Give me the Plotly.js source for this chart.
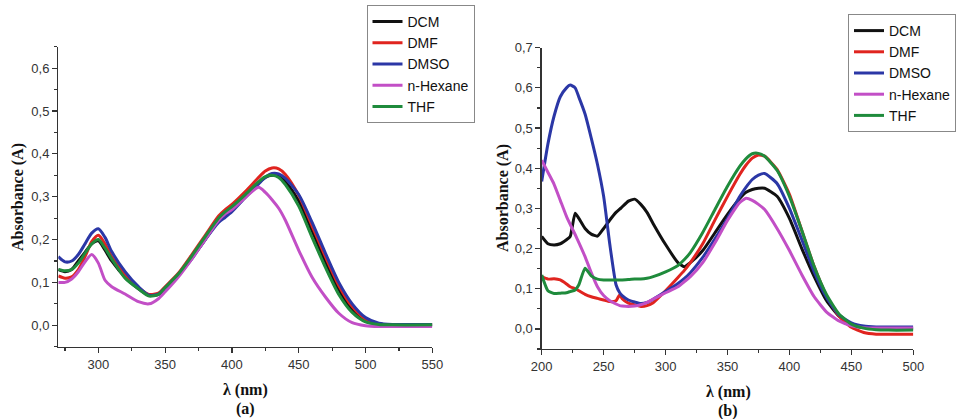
<!DOCTYPE html>
<html>
<head>
<meta charset="utf-8">
<script src="https://cdn.plot.ly/plotly-3.0.1.min.js"></script>
<style>html,body{margin:0;padding:0;background:#fff;}#chart{width:956px;height:419px;}</style>
</head>
<body>
<div id="chart"></div>
<script>
// ---------- data ----------
const seriesNames = ["DCM", "DMF", "DMSO", "n-Hexane", "THF"];

// Panel (a)
const waveA = [270,275,280,285,290,295,300,305,310,320,330,338,345,350,360,370,380,390,395,400,410,420,425,430,435,440,450,460,470,480,490,500,510,520,550];
const dcmA  = [0.13,0.125,0.13,0.15,0.17,0.19,0.197,0.175,0.15,0.112,0.085,0.07,0.072,0.088,0.118,0.158,0.2,0.245,0.258,0.27,0.302,0.333,0.345,0.35,0.348,0.335,0.29,0.22,0.148,0.083,0.037,0.012,0.003,0.001,0.001];
const dmfA  = [0.115,0.11,0.113,0.13,0.16,0.195,0.21,0.19,0.16,0.118,0.088,0.072,0.075,0.09,0.122,0.165,0.21,0.255,0.27,0.282,0.312,0.345,0.36,0.367,0.365,0.352,0.303,0.232,0.16,0.093,0.044,0.014,0.003,0.001,0.001];
const dmsoA = [0.16,0.148,0.15,0.165,0.19,0.215,0.225,0.205,0.172,0.125,0.09,0.07,0.073,0.087,0.117,0.155,0.2,0.24,0.252,0.265,0.298,0.33,0.345,0.354,0.353,0.343,0.305,0.24,0.168,0.1,0.05,0.018,0.005,0.002,0.002];
const hexA  = [0.1,0.1,0.108,0.125,0.148,0.165,0.145,0.105,0.09,0.073,0.055,0.05,0.062,0.078,0.113,0.155,0.2,0.245,0.26,0.27,0.298,0.322,0.31,0.293,0.273,0.245,0.175,0.112,0.066,0.028,0.006,-0.001,-0.003,-0.003,-0.003];
const thfA  = [0.13,0.127,0.13,0.145,0.168,0.19,0.2,0.18,0.155,0.11,0.085,0.068,0.072,0.088,0.12,0.162,0.207,0.25,0.265,0.277,0.305,0.335,0.347,0.35,0.345,0.328,0.278,0.205,0.135,0.072,0.03,0.008,0.002,0.001,0.001];

// Panel (b)
const waveB = [200,205,210,215,220,223,227,230,235,240,245,250,255,260,263,265,270,275,280,285,290,300,310,315,320,330,340,350,360,365,370,375,380,390,400,410,420,430,440,450,460,470,480,500];
const dcmB  = [0.23,0.212,0.209,0.212,0.222,0.23,0.288,0.275,0.25,0.236,0.231,0.25,0.271,0.29,0.298,0.304,0.318,0.323,0.31,0.29,0.262,0.21,0.165,0.155,0.165,0.195,0.24,0.285,0.325,0.34,0.347,0.35,0.35,0.33,0.275,0.2,0.13,0.07,0.032,0.012,0.004,0.001,0,0];
const dmfB  = [0.13,0.124,0.125,0.122,0.112,0.105,0.1,0.095,0.086,0.08,0.076,0.072,0.068,0.07,0.085,0.075,0.064,0.06,0.056,0.058,0.065,0.095,0.128,0.145,0.165,0.212,0.272,0.33,0.385,0.408,0.425,0.433,0.43,0.397,0.335,0.245,0.155,0.082,0.032,0.004,-0.009,-0.013,-0.013,-0.013];
const dmsoB = [0.367,0.46,0.53,0.578,0.6,0.607,0.6,0.577,0.535,0.475,0.41,0.33,0.21,0.11,0.09,0.083,0.072,0.067,0.063,0.066,0.074,0.093,0.113,0.125,0.14,0.178,0.225,0.275,0.33,0.353,0.372,0.383,0.387,0.362,0.3,0.222,0.142,0.078,0.035,0.015,0.007,0.005,0.005,0.005];
const hexB  = [0.42,0.39,0.36,0.32,0.28,0.26,0.235,0.215,0.18,0.14,0.105,0.083,0.07,0.062,0.058,0.057,0.056,0.057,0.06,0.066,0.074,0.09,0.105,0.117,0.13,0.165,0.215,0.27,0.315,0.325,0.32,0.31,0.297,0.25,0.195,0.135,0.08,0.042,0.02,0.008,0.003,0.002,0.002,0.002];
const thfB  = [0.134,0.095,0.088,0.089,0.09,0.093,0.097,0.11,0.151,0.132,0.124,0.122,0.122,0.122,0.122,0.122,0.123,0.124,0.124,0.126,0.13,0.142,0.158,0.172,0.19,0.24,0.298,0.355,0.405,0.424,0.436,0.437,0.43,0.395,0.33,0.245,0.155,0.085,0.037,0.012,0.002,-0.002,-0.003,-0.003];

const xTitle = "λ (nm)";
const yTitle = "Absorbance (A)";
const panelLabels = ["(a)", "(b)"];

// ---------- styling ----------
const colors = ["#111111", "#e0241f", "#2b37a6", "#c24fc6", "#1f8b3c"];
const W = 956, H = 419;
const px = v => v / W, py = v => 1 - v / H;

const valsA = [dcmA, dmfA, dmsoA, hexA, thfA];
const valsB = [dcmB, dmfB, dmsoB, hexB, thfB];

const traces = [];
valsA.forEach((ys, i) => traces.push({
  x: waveA, y: ys, name: seriesNames[i], type: "scatter", mode: "lines",
  line: {color: colors[i], width: 3, shape: "spline", smoothing: 0.7},
  xaxis: "x", yaxis: "y", legend: "legend"
}));
valsB.forEach((ys, i) => traces.push({
  x: waveB, y: ys, name: seriesNames[i], type: "scatter", mode: "lines",
  line: {color: colors[i], width: 3, shape: "spline", smoothing: 0.5},
  xaxis: "x2", yaxis: "y2", legend: "legend2"
}));

const tickFont = {family: "Liberation Sans, Arial, sans-serif", size: 13, color: "#333"};
const axisBase = {
  showline: true, linecolor: "#333", linewidth: 1.3, mirror: false,
  showgrid: false, zeroline: false, ticks: "outside", ticklen: 5, tickwidth: 1.2, tickcolor: "#333",
  tickfont: tickFont, fixedrange: true
};
const legendFont = {family: "Liberation Sans, Arial, sans-serif", size: 14, color: "#111"};

const layout = {
  width: W, height: H,
  margin: {l: 0, r: 0, t: 0, b: 0, autoexpand: false},
  paper_bgcolor: "#fff", plot_bgcolor: "#fff",
  separators: ",.",
  showlegend: true,
  xaxis: Object.assign({}, axisBase, {
    domain: [px(58.3), px(432.3)], range: [270, 550], dtick: 50, tick0: 300,
    minor: {dtick: 25, ticks: "outside", ticklen: 3, tickcolor: "#333"},
    anchor: "y"
  }),
  yaxis: Object.assign({}, axisBase, {
    domain: [py(346.7), py(46.7)], range: [-0.05, 0.65], dtick: 0.1, tick0: 0, tickformat: ".1f",
    minor: {dtick: 0.05, ticks: "outside", ticklen: 3, tickcolor: "#333"},
    anchor: "x"
  }),
  xaxis2: Object.assign({}, axisBase, {
    domain: [px(541.7), px(913.3)], range: [200, 500], dtick: 50, tick0: 200,
    minor: {dtick: 25, ticks: "outside", ticklen: 3, tickcolor: "#333"},
    anchor: "y2"
  }),
  yaxis2: Object.assign({}, axisBase, {
    domain: [py(349), py(47.7)], range: [-0.05, 0.7], dtick: 0.1, tick0: 0, tickformat: ".1f",
    minor: {dtick: 0.05, ticks: "outside", ticklen: 3, tickcolor: "#333"},
    anchor: "x2"
  }),
  legend: {
    x: px(366.5), y: py(5), xanchor: "left", yanchor: "top",
    bgcolor: "#fff", bordercolor: "#888", borderwidth: 1,
    font: legendFont, itemwidth: 30, tracegroupgap: 0
  },
  legend2: {
    x: px(848), y: py(14), xanchor: "left", yanchor: "top",
    bgcolor: "#fff", bordercolor: "#888", borderwidth: 1,
    font: legendFont, itemwidth: 30, tracegroupgap: 0
  },
  annotations: [
    {text: "<b>" + xTitle + "</b>", x: px(245), y: py(390), xref: "paper", yref: "paper", showarrow: false,
     xanchor: "center", yanchor: "middle", font: {family: "Liberation Serif, Times New Roman, serif", size: 16, color: "#111"}},
    {text: "<b>" + panelLabels[0] + "</b>", x: px(245), y: py(409), xref: "paper", yref: "paper", showarrow: false,
     xanchor: "center", yanchor: "middle", font: {family: "Liberation Serif, Times New Roman, serif", size: 16, color: "#111"}},
    {text: "<b>" + xTitle + "</b>", x: px(728), y: py(392), xref: "paper", yref: "paper", showarrow: false,
     xanchor: "center", yanchor: "middle", font: {family: "Liberation Serif, Times New Roman, serif", size: 16, color: "#111"}},
    {text: "<b>" + panelLabels[1] + "</b>", x: px(728), y: py(411), xref: "paper", yref: "paper", showarrow: false,
     xanchor: "center", yanchor: "middle", font: {family: "Liberation Serif, Times New Roman, serif", size: 16, color: "#111"}},
    {text: "<b>" + yTitle + "</b>", x: px(18), y: py(197), xref: "paper", yref: "paper", showarrow: false, textangle: -90,
     xanchor: "center", yanchor: "middle", font: {family: "Liberation Serif, Times New Roman, serif", size: 16, color: "#111"}},
    {text: "<b>" + yTitle + "</b>", x: px(503), y: py(198), xref: "paper", yref: "paper", showarrow: false, textangle: -90,
     xanchor: "center", yanchor: "middle", font: {family: "Liberation Serif, Times New Roman, serif", size: 16, color: "#111"}}
  ]
};

Plotly.newPlot("chart", traces, layout, {displayModeBar: false, staticPlot: true});
</script>
</body>
</html>
